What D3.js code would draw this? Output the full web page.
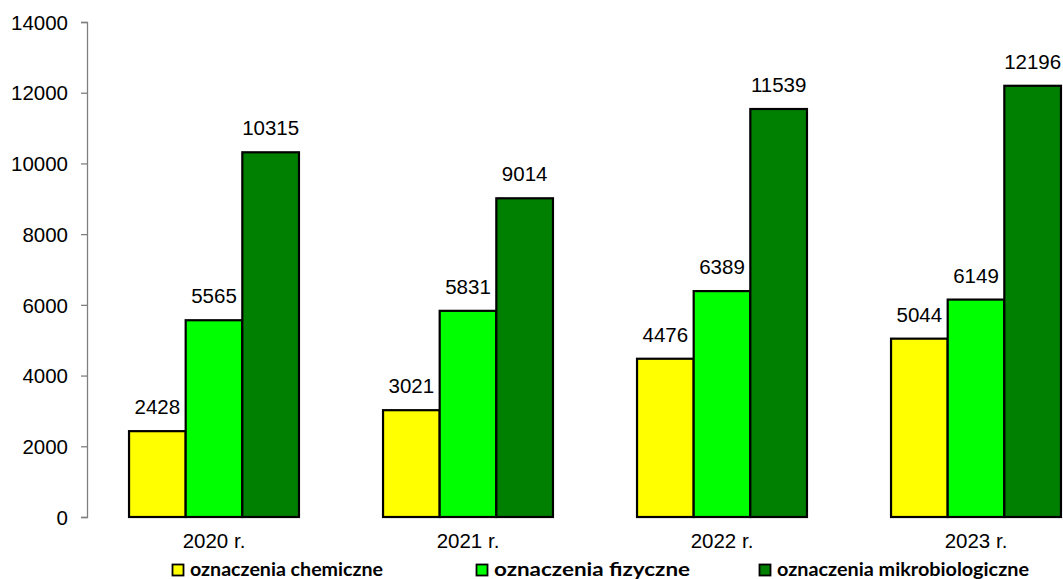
<!DOCTYPE html>
<html><head><meta charset="utf-8">
<script src="https://cdn.jsdelivr.net/npm/d3@7"></script>
<style>body{margin:0;background:#fff}svg{display:block}</style>
</head><body>
<svg id="c" width="1063" height="579"></svg>
<script>
const categories = ["2020 r.", "2021 r.", "2022 r.", "2023 r."];
const seriesNames = ["oznaczenia chemiczne", "oznaczenia fizyczne", "oznaczenia mikrobiologiczne"];
const chemiczne = [2428, 3021, 4476, 5044];
const fizyczne = [5565, 5831, 6389, 6149];
const mikrobiologiczne = [10315, 9014, 11539, 12196];
const yTicks = [0, 2000, 4000, 6000, 8000, 10000, 12000, 14000];
const colors = ["#FFFF00", "#00FF00", "#008000"];

const series = [chemiczne, fizyczne, mikrobiologiczne];
const svg = d3.select("#c");
const font = "'Liberation Sans', Arial, sans-serif";
const fs = 20.5;

const y = d3.scaleLinear().domain([0, 14000]).range([517, 22]);
const x = d3.scaleBand().domain(categories).range([87, 1103]).paddingInner(0.331).paddingOuter(0.1655);
const xs = d3.scaleBand().domain(d3.range(series.length)).range([0, x.bandwidth()]);

// y axis
const yAxis = d3.axisLeft(y).tickValues(yTicks).tickSize(6).tickPadding(13).tickFormat(d3.format("d"));
const gy = svg.append("g").attr("transform", "translate(87,0)").call(yAxis);
gy.select(".domain").attr("stroke", "#808080").attr("stroke-width", 1.3);
gy.selectAll(".tick line").attr("stroke", "#808080").attr("stroke-width", 1.3);
gy.selectAll(".tick text").attr("font-family", font).attr("font-size", fs).attr("fill", "#000").attr("dy", "0.35em");

// bars
const groups = svg.append("g").selectAll("g").data(categories).join("g")
  .attr("transform", d => `translate(${x(d)},0)`);
series.forEach((s, si) => {
  groups.append("rect")
    .attr("x", xs(si))
    .attr("width", xs.bandwidth())
    .attr("y", (d, i) => y(s[i]))
    .attr("height", (d, i) => y(0) - y(s[i]))
    .attr("fill", colors[si])
    .attr("stroke", "#000").attr("stroke-width", 2.2);
  groups.append("text")
    .attr("x", xs(si) + xs.bandwidth() / 2)
    .attr("y", (d, i) => y(s[i]) - 17)
    .attr("text-anchor", "middle")
    .attr("font-family", font).attr("font-size", fs).attr("fill", "#000")
    .text((d, i) => s[i]);
});

// x labels
const xAxis = d3.axisBottom(x).tickSize(0).tickPadding(0);
const gx = svg.append("g").attr("transform", "translate(0,517)").call(xAxis);
gx.select(".domain").remove();
gx.selectAll(".tick text").attr("font-family", font).attr("font-size", fs).attr("fill", "#000")
  .attr("dy", null).attr("y", 31);

// legend
const legendX = [172, 476, 759];
const legendW = [193, 196, 252];
const lg = svg.append("g").selectAll("g").data(seriesNames).join("g")
  .attr("transform", (d, i) => `translate(${legendX[i]},564)`);
lg.append("rect").attr("x", 0.5).attr("y", 0.5).attr("width", 11).attr("height", 11)
  .attr("fill", (d, i) => colors[i]).attr("stroke", "#000").attr("stroke-width", 1.8);
lg.append("text").attr("x", 18).attr("y", 12)
  .attr("font-family", "Lato, 'Open Sans', sans-serif").attr("font-weight", "bold")
  .attr("font-size", 19).attr("fill", "#000")
  .attr("textLength", (d, i) => legendW[i]).attr("lengthAdjust", "spacingAndGlyphs")
  .text(d => d);
</script>
</body></html>
